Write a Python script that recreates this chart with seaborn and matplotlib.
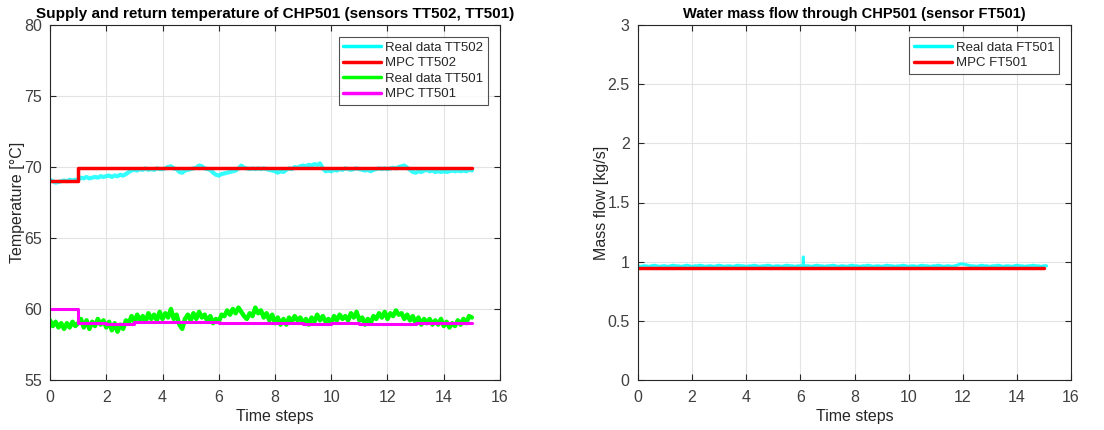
import numpy as np
import pandas as pd
import matplotlib
matplotlib.use("Agg")
import matplotlib.pyplot as plt
import seaborn as sns

# ---------------- data ----------------
time_real = [round(0.1 * i, 1) for i in range(151)]  # 0.0 .. 15.0 time steps
time_mpc = list(range(16))                            # step starts 0..15

tt502_real = [
    69.1, 69.0, 68.9, 68.95, 69.0, 69.05, 69.0, 69.1, 69.05, 69.1,
    69.1, 69.25, 69.2, 69.3, 69.2, 69.25, 69.3, 69.25, 69.35, 69.3,
    69.35, 69.4, 69.3, 69.4, 69.35, 69.45, 69.4, 69.5, 69.65, 69.75,
    69.8, 69.75, 69.85, 69.8, 69.9, 69.8, 69.85, 69.8, 69.9, 69.85,
    69.85, 69.9, 70.0, 70.05, 69.9, 69.85, 69.65, 69.6, 69.75, 69.8,
    69.85, 69.9, 69.95, 70.1, 70.05, 69.9, 69.85, 69.8, 69.6, 69.45,
    69.4, 69.5, 69.55, 69.6, 69.65, 69.7, 69.75, 69.9, 70.1, 69.95,
    69.9, 69.85, 69.9, 69.85, 69.9, 69.85, 69.9, 69.85, 69.8, 69.75,
    69.7, 69.6, 69.7, 69.65, 69.8, 69.9, 69.85, 70.0, 69.95, 70.05,
    70.1, 70.05, 70.15, 70.1, 70.2, 70.15, 70.25, 69.9, 69.7, 69.75,
    69.7, 69.8, 69.75, 69.85, 69.8, 69.9, 69.85, 69.8, 69.85, 69.9,
    69.85, 69.8, 69.75, 69.8, 69.7, 69.8, 69.85, 69.9, 69.85, 69.9,
    69.85, 69.9, 69.95, 69.9, 70.0, 70.05, 70.1, 69.95, 69.8, 69.65,
    69.6, 69.7, 69.65, 69.75, 69.8, 69.7, 69.75, 69.65, 69.7, 69.65,
    69.7, 69.65, 69.7, 69.75, 69.7, 69.75, 69.7, 69.75, 69.7, 69.8,
    69.75,
]

tt501_real = [
    59.2, 58.8, 59.1, 58.7, 59.0, 58.6, 59.0, 58.7, 59.1, 58.8,
    59.0, 59.3, 58.7, 59.2, 58.6, 59.1, 58.8, 59.3, 58.9, 59.2,
    58.7, 59.1, 58.5, 59.0, 58.4, 58.9, 58.6, 59.2, 59.0, 59.5,
    59.1, 59.6, 59.2, 59.5, 59.1, 59.7, 59.3, 59.6, 59.2, 59.8,
    59.3, 59.7, 59.4, 60.0, 59.3, 59.6, 58.9, 58.6, 59.3, 59.6,
    59.2, 59.7, 59.3, 59.8, 59.4, 59.6, 59.1, 59.5, 59.0, 59.3,
    59.1, 59.6, 59.5, 59.9, 59.6, 60.0, 59.7, 60.1, 59.8, 59.5,
    59.3, 59.7, 59.5, 60.1, 59.7, 59.9, 59.4, 59.7, 59.2, 59.6,
    59.0, 59.4, 58.9, 59.3, 58.9, 59.4, 59.1, 59.5, 59.2, 59.4,
    59.0, 59.3, 58.9, 59.4, 59.1, 59.6, 59.2, 59.5, 59.1, 59.3,
    59.0, 59.5, 59.2, 59.6, 59.3, 59.5, 59.2, 59.7, 59.4, 59.8,
    59.2, 59.4, 58.9, 59.3, 59.0, 59.5, 59.3, 59.7, 59.4, 59.8,
    59.3, 59.7, 59.5, 59.9, 59.6, 59.7, 59.3, 59.6, 59.2, 59.5,
    59.0, 59.4, 58.9, 59.3, 59.0, 59.3, 58.9, 59.2, 58.9, 59.3,
    58.8, 59.1, 58.7, 59.0, 58.8, 59.2, 58.9, 59.3, 59.0, 59.5,
    59.4,
]

tt502_mpc = [69.0, 69.95, 69.95, 69.95, 69.95, 69.95, 69.95, 69.95,
             69.95, 69.95, 69.95, 69.95, 69.95, 69.95, 69.95, 69.95]
tt501_mpc = [60.0, 59.0, 58.92, 59.05, 59.05, 59.05, 59.0, 59.0,
             59.0, 58.95, 59.0, 58.97, 58.97, 59.0, 59.0, 59.0]

# FT501 samples: 0.0..6.0, a short spike at 6.1, then 6.2..15.1
time_flow = [round(0.1 * i, 1) for i in range(61)] + [6.1, 6.11, 6.12] + \
            [round(0.1 * i, 1) for i in range(62, 152)]
ft501_real = [
    0.965, 0.96, 0.965, 0.965, 0.96, 0.965, 0.97, 0.965, 0.96, 0.965,
    0.965, 0.96, 0.965, 0.97, 0.965, 0.965, 0.96, 0.965, 0.97, 0.965,
    0.96, 0.965, 0.965, 0.97, 0.965, 0.96, 0.965, 0.965, 0.96, 0.965,
    0.97, 0.965, 0.96, 0.965, 0.965, 0.96, 0.965, 0.97, 0.965, 0.965,
    0.96, 0.965, 0.965, 0.97, 0.965, 0.96, 0.965, 0.965, 0.97, 0.965,
    0.96, 0.965, 0.965, 0.96, 0.965, 0.97, 0.965, 0.965, 0.96, 0.965,
    0.965,
    0.965, 1.04, 0.945,
    0.965, 0.965, 0.96, 0.965, 0.97, 0.965, 0.965, 0.96, 0.965, 0.965,
    0.97, 0.965, 0.96, 0.965, 0.965, 0.96, 0.965, 0.97, 0.965, 0.965,
    0.96, 0.965, 0.965, 0.97, 0.965, 0.96, 0.965, 0.965, 0.96, 0.965,
    0.97, 0.965, 0.965, 0.96, 0.965, 0.965, 0.97, 0.965, 0.96, 0.965,
    0.965, 0.96, 0.965, 0.97, 0.965, 0.965, 0.96, 0.965, 0.965, 0.97,
    0.965, 0.96, 0.965, 0.965, 0.96, 0.965, 0.97, 0.98, 0.98, 0.975,
    0.97, 0.965, 0.965, 0.96, 0.965, 0.97, 0.965, 0.965, 0.96, 0.965,
    0.965, 0.97, 0.965, 0.96, 0.965, 0.965, 0.96, 0.965, 0.97, 0.965,
    0.965, 0.96, 0.965, 0.965, 0.97, 0.965, 0.965, 0.96, 0.965, 0.965,
]
ft501_mpc = [0.95] * 16

# ---------------- style ----------------
sns.set_theme(style="whitegrid")
plt.rcParams["font.family"] = ["Liberation Sans", "DejaVu Sans"]
plt.rcParams["axes.edgecolor"] = "#262626"
plt.rcParams["axes.linewidth"] = 0.8
plt.rcParams["grid.color"] = "#e3e3e3"
plt.rcParams["grid.linewidth"] = 0.8

fig = plt.figure(figsize=(11.04, 4.30), dpi=100)
ax1 = fig.add_axes([50 / 1104, 1 - 380 / 430, 450 / 1104, 355 / 430])
ax2 = fig.add_axes([638 / 1104, 1 - 380 / 430, 433 / 1104, 355 / 430])

CYAN = "#00ffff"
RED = "#ff0000"
GREEN = "#00ff00"
MAGENTA = "#ff00ff"

df_t = pd.DataFrame({"t": time_real, "TT502": tt502_real, "TT501": tt501_real})
df_m = pd.DataFrame({"t": time_mpc, "TT502": tt502_mpc, "TT501": tt501_mpc,
                     "FT501": ft501_mpc})
df_f = pd.DataFrame({"t": time_flow, "FT501": ft501_real})

# left panel
sns.lineplot(data=df_t, x="t", y="TT502", ax=ax1, color=CYAN, lw=3.0,
             estimator=None, sort=False, label="Real data TT502", alpha=0.8)
sns.lineplot(data=df_m, x="t", y="TT502", ax=ax1, color=RED, lw=2.5,
             estimator=None, sort=False, drawstyle="steps-post", label="MPC TT502")
sns.lineplot(data=df_t, x="t", y="TT501", ax=ax1, color=GREEN, lw=3.2,
             estimator=None, sort=False, label="Real data TT501")
sns.lineplot(data=df_m, x="t", y="TT501", ax=ax1, color=MAGENTA, lw=2.2,
             estimator=None, sort=False, drawstyle="steps-post", label="MPC TT501")

# right panel
sns.lineplot(data=df_f, x="t", y="FT501", ax=ax2, color=CYAN, lw=2.2,
             estimator=None, sort=False, label="Real data FT501", alpha=0.85)
sns.lineplot(data=df_m, x="t", y="FT501", ax=ax2, color=RED, lw=2.5,
             estimator=None, sort=False, drawstyle="steps-post", label="MPC FT501")

def style(ax, ylim, yticks, ylabel, title, tsize):
    ax.set_xlim(0, 16)
    ax.set_ylim(*ylim)
    ax.set_xticks(range(0, 17, 2))
    ax.set_yticks(yticks)
    ax.set_yticklabels([("%g" % v) for v in yticks])
    ax.set_xlabel("Time steps", fontsize=11.5, color="#262626", labelpad=3)
    ax.set_ylabel(ylabel, fontsize=11.5, color="#262626", labelpad=-1)
    ax.set_title(title, fontsize=tsize, fontweight="bold", color="black", pad=5)
    ax.tick_params(axis="both", which="both", direction="in", length=4,
                   width=0.8, colors="#262626", labelsize=11.5,
                   top=True, right=True, bottom=True, left=True,
                   labelcolor="#404040")
    ax.tick_params(axis="x", pad=7)
    ax.tick_params(axis="y", pad=6)
    for s in ax.spines.values():
        s.set_visible(True)
        s.set_color("#262626")
        s.set_linewidth(0.8)
    ax.grid(True, color="#e3e3e3", lw=0.8)
    ax.set_axisbelow(True)
    leg = ax.legend(loc="upper right", fontsize=9.5, frameon=True, fancybox=False,
                    handlelength=2.9, handletextpad=0.3, borderpad=0.35,
                    labelspacing=0.25, borderaxespad=0.9)
    leg.get_frame().set_edgecolor("#262626")
    leg.get_frame().set_linewidth(0.8)
    for line in leg.get_lines():
        line.set_linewidth(2.5)
        line.set_alpha(1)

style(ax1, (55, 80), [55, 60, 65, 70, 75, 80], "Temperature [°C]",
      "Supply and return temperature of CHP501 (sensors TT502, TT501)", 11)
style(ax2, (0, 3), [0, 0.5, 1, 1.5, 2, 2.5, 3], "Mass flow [kg/s]",
      "Water mass flow through CHP501 (sensor FT501)", 10.5)

fig.savefig("out.png", dpi=100, facecolor="white")
